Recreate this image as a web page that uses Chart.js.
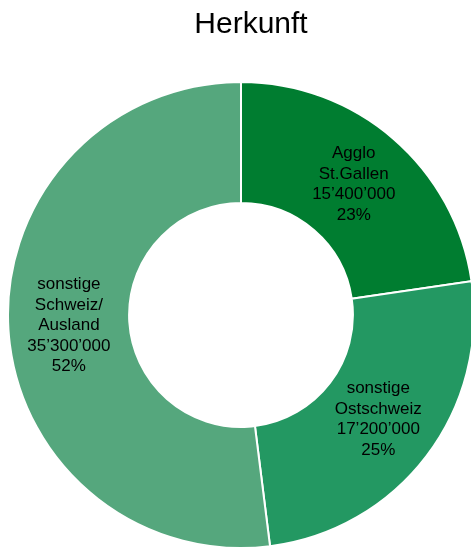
<!DOCTYPE html>
<html>
<head>
<meta charset="utf-8">
<script src="https://cdn.jsdelivr.net/npm/chart.js@4/dist/chart.umd.min.js"></script>
<style>
  html, body { margin: 0; padding: 0; background: #fff; }
  #wrap { width: 471px; height: 548px; }
</style>
</head>
<body>
<div id="wrap"><canvas id="herkunftChart"></canvas></div>
<script>
const categories = [
  ["Agglo", "St.Gallen"],
  ["sonstige", "Ostschweiz"],
  ["sonstige", "Schweiz/", "Ausland"]
];
const values = [15400000, 17200000, 35300000];
const colors = ["#007D30", "#239862", "#55A77D"];

function formatNumber(n) {
  return String(n).replace(/\B(?=(\d{3})+(?!\d))/g, "\u2019");
}

// draws name, value and share in the middle of each ring segment
const sliceLabels = {
  id: "sliceLabels",
  afterLayout(chart) {
    // title sits a bit right of the ring centre in the original
    chart.titleBlock.left = 31;
    chart.titleBlock.right = 471;
  },
  afterDatasetsDraw(chart) {
    const ctx = chart.ctx;
    const meta = chart.getDatasetMeta(0);
    const data = chart.data.datasets[0].data;
    const total = data.reduce((a, b) => a + b, 0);
    ctx.save();
    ctx.fillStyle = "#000";
    ctx.font = "17px 'Liberation Sans', Arial, sans-serif";
    ctx.textAlign = "center";
    ctx.textBaseline = "middle";
    meta.data.forEach((arc, i) => {
      const pos = arc.getCenterPoint();
      const lines = [].concat(chart.data.labels[i], formatNumber(data[i]), Math.round(data[i] / total * 100) + "%");
      const lh = 20.5;
      const y0 = pos.y - (lines.length - 1) * lh / 2;
      lines.forEach((t, j) => ctx.fillText(t, pos.x, y0 + j * lh));
    });
    ctx.restore();
  }
};

new Chart(document.getElementById("herkunftChart"), {
  type: "doughnut",
  data: {
    labels: categories,
    datasets: [{
      data: values,
      backgroundColor: colors,
      borderColor: "#fff",
      borderWidth: 2
    }]
  },
  options: {
    responsive: true,
    maintainAspectRatio: false,
    animation: false,
    radius: 233,
    cutout: 110,
    layout: { padding: { left: 11, right: 0, top: 0, bottom: 0 } },
    plugins: {
      legend: { display: false },
      tooltip: { enabled: false },
      title: {
        display: true,
        text: "Herkunft",
        color: "#000",
        font: { family: "'Liberation Sans', Arial, sans-serif", size: 30, weight: "normal", lineHeight: 1.2 },
        padding: { top: 7, bottom: 39 }
      }
    }
  },
  plugins: [sliceLabels]
});
</script>
</body>
</html>
